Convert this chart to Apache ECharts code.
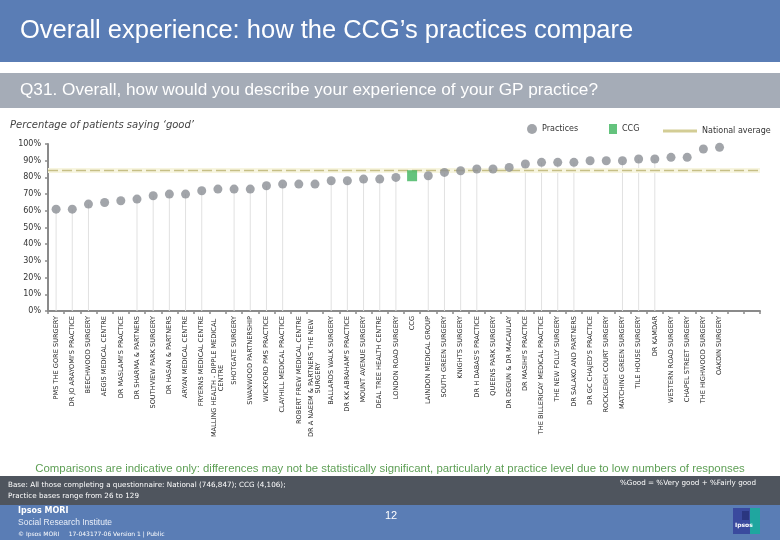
<!DOCTYPE html>
<html>
<head>
<meta charset="utf-8">
<script src="https://cdn.jsdelivr.net/npm/echarts@6/dist/echarts.min.js"></script>
<style>
html,body{margin:0;padding:0;background:#fff;}
#chart{width:780px;height:540px;}
</style>
</head>
<body>
<div id="chart"></div>
<script>
// ---- data ----
const categories = [
  'PMS THE GORE SURGERY',
  "DR JO ARAYOMI'S PRACTICE",
  'BEECHWOOD SURGERY',
  'AEGIS MEDICAL CENTRE',
  "DR MASLAMI'S PRACTICE",
  'DR SHARMA & PARTNERS',
  'SOUTHVIEW PARK SURGERY',
  'DR HASAN & PARTNERS',
  'ARYAN MEDICAL CENTRE',
  'FRYERNS MEDICAL CENTRE',
  'MALLING HEALTH - DIPPLE MEDICAL\nCENTRE',
  'SHOTGATE SURGERY',
  'SWANWOOD PARTNERSHIP',
  'WICKFORD PMS PRACTICE',
  'CLAYHILL MEDICAL PRACTICE',
  'ROBERT FREW MEDICAL CENTRE',
  'DR A NAEEM & PARTNERS THE NEW\nSURGERY',
  'BALLARDS WALK SURGERY',
  "DR KK ABRAHAM'S PRACTICE",
  'MOUNT AVENUE SURGERY',
  'DEAL TREE HEALTH CENTRE',
  'LONDON ROAD SURGERY',
  'CCG',
  'LAINDON MEDICAL GROUP',
  'SOUTH GREEN SURGERY',
  'KNIGHTS SURGERY',
  "DR H DABAS'S PRACTICE",
  'QUEENS PARK SURGERY',
  'DR DEGUN & DR MACAULAY',
  "DR MASIHI'S PRACTICE",
  'THE BILLERICAY MEDICAL PRACTICE',
  'THE NEW FOLLY SURGERY',
  'DR SALAKO AND PARTNERS',
  "DR GC CHAJED'S PRACTICE",
  'ROCKLEIGH COURT SURGERY',
  'MATCHING GREEN SURGERY',
  'TILE HOUSE SURGERY',
  'DR KAMDAR',
  'WESTERN ROAD SURGERY',
  'CHAPEL STREET SURGERY',
  'THE HIGHWOOD SURGERY',
  'OAKDIN SURGERY',
  '',
  ' '
];
const practiceValues = [61,61,64,65,66,67,69,70,70,72,73,73,73,75,76,76,76,78,78,79,79,80,null,81,83,84,85,85,86,88,89,89,89,90,90,90,91,91,92,92,97,98,null,null];
const ccgName = 'CCG';
const ccgValue = 81;
const nationalAverage = 84;
const dropLineShown = [1,1,1,0,0,1,1,1,1,1,0,1,1,1,1,0,0,1,1,1,1,1,0,1,1,1,1,0,0,1,1,1,1,0,0,1,1,1,0,0,0,0,0,0];

// ---- build ----
const ccgIndex = categories.indexOf(ccgName);
const ccgData = categories.map((c,i) => i === ccgIndex ? ccgValue : null);
const stemData = practiceValues.map((v,i) => dropLineShown[i] ? v : null);

const chart = echarts.init(document.getElementById('chart'));
const white = '#ffffff';
const option = {
  animation: false,
  backgroundColor: '#ffffff',
  textStyle: {fontFamily: 'Liberation Sans'},
  grid: {left: 48, right: 20, top: 144, bottom: 229, containLabel: false},
  xAxis: {
    type: 'category',
    data: categories,
    boundaryGap: true,
    axisLine: {lineStyle: {color: '#8a8a8a', width: 2}},
    axisTick: {show: true, interval: 0, length: 3, lineStyle: {color: '#8a8a8a', width: 1.5}},
    axisLabel: {
      interval: 0, rotate: 90, margin: 5, fontSize: 6.6, color: '#222',
      fontFamily: 'DejaVu Sans',
      formatter: function (v) {
        if (v.indexOf('\n') >= 0) {
          return v.split('\n').map(l => '{c|' + l + '}').join('\n');
        }
        return v;
      },
      rich: {c: {width: 124, align: 'center', fontSize: 6.6, fontFamily: 'DejaVu Sans', color: '#222'}}
    },
    splitLine: {show: false}
  },
  yAxis: {
    type: 'value', min: 0, max: 100, interval: 10,
    axisLine: {show: true, lineStyle: {color: '#8a8a8a', width: 2}},
    axisTick: {show: true, length: 3, lineStyle: {color: '#8a8a8a', width: 1.5}},
    axisLabel: {formatter: '{value}%', fontSize: 8, color: '#333', margin: 7, fontFamily: 'DejaVu Sans'},
    splitLine: {show: false}
  },
  legend: [
    {data: [{name: 'Practices', icon: 'circle'}], left: 522, top: 119, itemWidth: 10, itemHeight: 10, itemGap: 0,
     textStyle: {fontSize: 8, color: '#333', fontFamily: 'DejaVu Sans'}, selectedMode: false},
    {data: [{name: 'CCG', icon: 'rect'}], left: 604, top: 119, itemWidth: 8, itemHeight: 10,
     textStyle: {fontSize: 8, color: '#333', fontFamily: 'DejaVu Sans'}, selectedMode: false},
    {data: [{name: 'National average', icon: 'rect'}], left: 658, top: 122, itemWidth: 34, itemHeight: 3,
     textStyle: {fontSize: 8, color: '#333', fontFamily: 'DejaVu Sans'}, selectedMode: false}
  ],
  series: [
    {
      name: 'stems', type: 'bar', data: stemData, barWidth: 1, silent: true, z: 1,
      itemStyle: {color: '#e1e1e1'}
    },
    {
      name: 'National average', type: 'line', data: categories.map(() => null), symbol: 'none',
      itemStyle: {color: '#d3cd95'}, lineStyle: {color: '#d3cd95'}, z: 2,
      markLine: {
        silent: true, symbol: 'none', label: {show: false},
        data: [
          {yAxis: nationalAverage, lineStyle: {color: '#f7f5df', width: 5, type: 'solid'}},
          {yAxis: nationalAverage, lineStyle: {color: '#c6bf86', width: 1.3, type: [10, 4]}}
        ]
      }
    },
    {
      name: 'Practices', type: 'scatter', data: practiceValues, symbol: 'circle', symbolSize: 9, z: 5,
      itemStyle: {color: '#8b8f95'}
    },
    {
      name: 'CCG', type: 'scatter', data: ccgData, symbol: 'rect', symbolSize: [10, 11], z: 6,
      itemStyle: {color: '#3db45c'}
    }
  ],
  graphic: [
    {type: 'rect', shape: {x: 0, y: 0, width: 780, height: 62}, style: {fill: '#5a7db5'}, z: -10},
    {type: 'text', left: 20, top: 18, style: {text: 'Overall experience: how the CCG\u2019s practices compare', fill: white, font: '25.5px "Liberation Sans"'}},
    {type: 'rect', shape: {x: 0, y: 73, width: 780, height: 35}, style: {fill: '#a5acb7'}, z: -10},
    {type: 'text', left: 20, top: 82, style: {text: 'Q31. Overall, how would you describe your experience of your GP practice?', fill: white, font: '17.2px "Liberation Sans"'}},
    {type: 'text', left: 10, top: 120, style: {text: 'Percentage of patients saying \u2018good\u2019', fill: '#444', font: 'italic 10px "DejaVu Sans"'}},
    {type: 'text', left: 'center', top: 463, style: {text: 'Comparisons are indicative only: differences may not be statistically significant, particularly at practice level due to low numbers of responses', fill: '#5e9f55', font: '11.4px "Liberation Sans"'}},
    {type: 'rect', shape: {x: 0, y: 476, width: 780, height: 29}, style: {fill: '#4f555e'}, z: -10},
    {type: 'text', left: 8, top: 480, style: {text: 'Base: All those completing a questionnaire: National (746,847); CCG (4,106);\nPractice bases range from 26 to 129', fill: white, font: '7.2px "DejaVu Sans"', lineHeight: 11}},
    {type: 'text', left: 620, top: 480, style: {text: '%Good = %Very good + %Fairly good', fill: white, font: '7.2px "DejaVu Sans"'}},
    {type: 'rect', shape: {x: 0, y: 505, width: 780, height: 35}, style: {fill: '#5a7db5'}, z: -10},
    {type: 'text', left: 18, top: 507, style: {text: 'Ipsos MORI', fill: white, font: 'bold 8px "DejaVu Sans"'}},
    {type: 'text', left: 18, top: 518, style: {text: 'Social Research Institute', fill: '#e8eef8', font: '8.5px "Liberation Sans"'}},
    {type: 'text', left: 18, top: 531, style: {text: '\u00a9 Ipsos MORI     17-043177-06 Version 1 | Public', fill: white, font: '6px "DejaVu Sans"'}},
    {type: 'text', left: 385, top: 510, style: {text: '12', fill: white, font: '11px "Liberation Sans"'}},
    {type: 'rect', shape: {x: 733, y: 508, width: 20, height: 26}, style: {fill: '#3a4a9e'}},
    {type: 'rect', shape: {x: 750, y: 508, width: 10, height: 26}, style: {fill: '#1fa69f'}},
    {type: 'rect', shape: {x: 742, y: 511, width: 7, height: 9}, style: {fill: '#2a3680'}},
    {type: 'text', left: 735, top: 522, style: {text: 'Ipsos', fill: white, font: 'bold 6px "DejaVu Sans"'}}
  ]
};
chart.setOption(option);
</script>
</body>
</html>
